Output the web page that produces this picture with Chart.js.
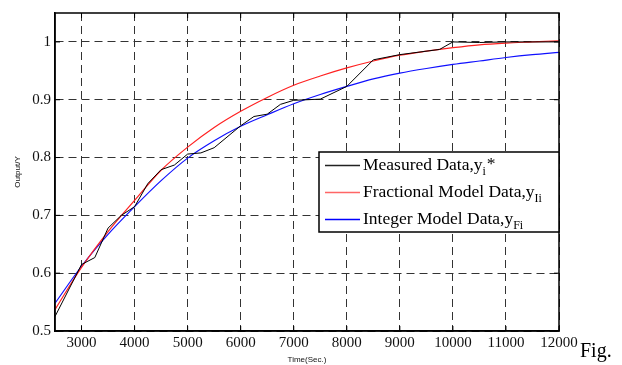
<!DOCTYPE html>
<html><head><meta charset="utf-8">
<script src="https://cdn.jsdelivr.net/npm/chart.js@4/dist/chart.umd.min.js"></script>
<style>html,body{margin:0;padding:0;background:#fff;}#wrap{width:622px;height:365px;position:relative;}</style>
</head><body><div id="wrap"><canvas id="c" width="622" height="365"></canvas></div>
<script>
const measuredT = [2500, 3000, 3250, 3500, 3750, 4000, 4250, 4500, 4750, 5000, 5250, 5500, 6000, 6250, 6500, 6750, 7000, 7500, 8000, 8500, 9000, 9750, 10000, 10500, 11000, 12000];
const measuredY = [0.525, 0.615, 0.627, 0.678, 0.700, 0.715, 0.755, 0.779, 0.787, 0.806, 0.808, 0.817, 0.855, 0.871, 0.875, 0.892, 0.899, 0.901, 0.923, 0.969, 0.978, 0.987, 1.0, 0.999, 1.0, 1.0];
const modelT = [2500, 3000, 3500, 4000, 4500, 5000, 5500, 6000, 6500, 7000, 7500, 8000, 8500, 9000, 9500, 10000, 10500, 11000, 11500, 12000];
const fractionalY = [0.537, 0.610, 0.672, 0.726, 0.778, 0.818, 0.852, 0.880, 0.904, 0.925, 0.941, 0.955, 0.967, 0.977, 0.984, 0.990, 0.995, 0.998, 1.000, 1.002];
const integerY = [0.548, 0.612, 0.667, 0.715, 0.760, 0.799, 0.829, 0.854, 0.874, 0.893, 0.909, 0.923, 0.936, 0.946, 0.954, 0.961, 0.967, 0.973, 0.978, 0.982];
const xTicks = [3000, 4000, 5000, 6000, 7000, 8000, 9000, 10000, 11000, 12000];
const yTicks = [0.5, 0.6, 0.7, 0.8, 0.9, 1.0];
const legendItems = [
  {base: 'Measured Data,y', sub: 'i', sup: '*', color: '#222'},
  {base: 'Fractional Model Data,y', sub: 'Ii', sup: '', color: '#ff6666'},
  {base: 'Integer Model Data,y', sub: 'Fi', sup: '', color: '#0000ff'}
];

const pts = (t, y) => t.map((v, i) => ({x: v, y: y[i]}));
const serif = '"Liberation Serif", "DejaVu Serif", serif';
const sans = '"Liberation Sans", Arial, sans-serif';

const framePlugin = {
  id: 'frame',
  afterDraw(chart) {
    const {ctx, chartArea: a} = chart;
    const xs = chart.scales.x, ys = chart.scales.y;
    ctx.save();
    ctx.setLineDash([]);
    ctx.strokeStyle = '#000';
    ctx.lineWidth = 1;
    // inward tick marks
    ctx.beginPath();
    yTicks.forEach(v => {
      const p = ys.getPixelForValue(v);
      ctx.moveTo(a.left, p); ctx.lineTo(a.left + 5, p);
      ctx.moveTo(a.right, p); ctx.lineTo(a.right - 5, p);
    });
    xTicks.forEach(v => {
      const p = xs.getPixelForValue(v);
      ctx.moveTo(p, a.bottom); ctx.lineTo(p, a.bottom - 5);
      ctx.moveTo(p, a.top); ctx.lineTo(p, a.top + 5);
    });
    ctx.stroke();
    ctx.lineWidth = 1.5;
    ctx.strokeRect(a.left, a.top, a.right - a.left, a.bottom - a.top);
    // legend box
    const lx = a.left + 264, ly = a.top + 139, lw = a.right - lx, lh = 80;
    ctx.fillStyle = '#fff';
    ctx.fillRect(lx, ly, lw, lh);
    ctx.lineWidth = 1.5;
    ctx.strokeRect(lx, ly, lw, lh);
    legendItems.forEach((it, i) => {
      const yy = ly + 13.5 + i * 27;
      ctx.strokeStyle = it.color;
      ctx.lineWidth = 1.5;
      ctx.beginPath(); ctx.moveTo(lx + 6, yy); ctx.lineTo(lx + 41, yy); ctx.stroke();
      ctx.fillStyle = '#000';
      ctx.textBaseline = 'alphabetic';
      ctx.textAlign = 'left';
      ctx.font = '17.5px ' + serif;
      const bx = lx + 44, by = yy + 4;
      ctx.fillText(it.base, bx, by);
      const w = ctx.measureText(it.base).width;
      ctx.font = '12px ' + serif;
      ctx.fillText(it.sub, bx + w, by + 5);
      const sw = ctx.measureText(it.sub).width;
      if (it.sup) {
        ctx.font = '17.5px ' + serif;
        ctx.fillText(it.sup, bx + w + sw + 1, by - 1);
      }
    });
    // Fig.
    ctx.fillStyle = '#000';
    ctx.font = '20px ' + serif;
    ctx.textAlign = 'left';
    ctx.textBaseline = 'alphabetic';
    ctx.fillText('Fig.', 580, 357);
    ctx.restore();
  }
};

new Chart(document.getElementById('c'), {
  type: 'line',
  data: {
    datasets: [
      {label: 'Measured Data', data: pts(measuredT, measuredY), borderColor: '#000', borderWidth: 1, pointRadius: 0, tension: 0},
      {label: 'Fractional Model Data', data: pts(modelT, fractionalY), borderColor: '#ff2020', borderWidth: 1.2, pointRadius: 0, cubicInterpolationMode: 'monotone'},
      {label: 'Integer Model Data', data: pts(modelT, integerY), borderColor: '#1010ff', borderWidth: 1.2, pointRadius: 0, cubicInterpolationMode: 'monotone'}
    ]
  },
  options: {
    responsive: false,
    animation: false,
    layout: {padding: {left: 13, right: 63, top: 5, bottom: 0}},
    plugins: {legend: {display: false}, tooltip: {enabled: false}},
    scales: {
      x: {
        type: 'linear', min: 2500, max: 12000,
        afterBuildTicks: s => { s.ticks = xTicks.map(v => ({value: v})); },
        afterFit: s => { s.height = 34; },
        grid: {color: '#333', lineWidth: 1, drawTicks: false},
        border: {display: true, color: '#000', width: 1.5, dash: [8, 5]},
        ticks: {color: '#111', font: {family: serif, size: 15}, padding: 3, maxRotation: 0, callback: v => String(v)},
        title: {display: true, text: 'Time(Sec.)', color: '#111', font: {family: sans, size: 8}, padding: {top: -4, bottom: 0}}
      },
      y: {
        type: 'linear', min: 0.5, max: 1.05,
        afterBuildTicks: s => { s.ticks = yTicks.map(v => ({value: v})); },
        afterFit: s => { s.width = 42; },
        grid: {color: '#333', lineWidth: 1, drawTicks: false},
        border: {display: true, color: '#000', width: 1.5, dash: [8, 5]},
        ticks: {color: '#111', font: {family: serif, size: 15}, padding: 4, callback: v => String(Math.round(v * 10) / 10)},
        title: {display: true, text: 'Output/Y', color: '#111', font: {family: sans, size: 8}, padding: {top: 0, bottom: 0}}
      }
    }
  },
  plugins: [framePlugin]
});
</script>
</body></html>
